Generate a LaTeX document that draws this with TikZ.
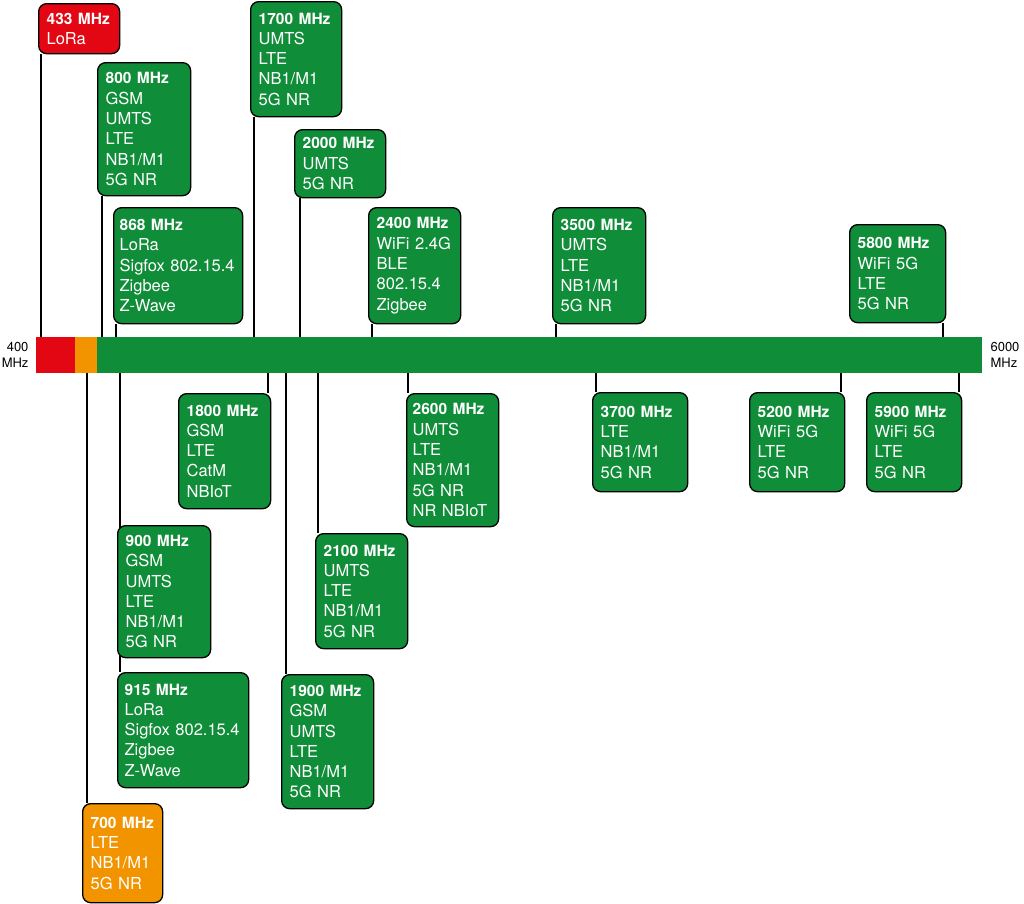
\documentclass[tikz,border=0pt]{standalone}
\usepackage{fontspec}
\setmainfont{TeX Gyre Heros}
\usetikzlibrary{backgrounds}
\definecolor{bandred}{RGB}{227,6,19}
\definecolor{bandorange}{RGB}{242,148,0}
\definecolor{bandgreen}{RGB}{16,141,56}
\newcommand{\mhz}[1]{{\fontsize{15.5}{20.3}\selectfont\bfseries #1}}
\tikzset{
  band/.style={draw=black, line width=1.3pt, rounded corners=8pt, anchor=north west,
    align=left, text=white, fill=bandgreen, inner xsep=8pt, inner ysep=0pt,
    font=\fontsize{16.5}{20.3}\selectfont},
  pin/.style={draw=black, line width=1.1pt},
  edge label/.style={font=\fontsize{13}{16.5}\selectfont},
}
\begin{document}
\begin{tikzpicture}[x=1pt, y=-1pt]
  \useasboundingbox (0,0) rectangle (1024,903);
  % the frequency bar
  \fill[bandgreen] (97,337) rectangle (982,373);
  \fill[bandred] (36,337) rectangle (75,373);
  \fill[bandorange] (75,337) rectangle (97,373);
  \node (lo) at (32,355) [edge label, anchor=east, align=right] {400\\MHz};
  \node (hi) at (987,355) [edge label, anchor=west, align=left] {6000\\MHz};
  % bands above the bar
  \node (b433) at (38,3) [band, fill=bandred, text width=65pt, minimum height=50pt]
    {\mhz{433 MHz}\\LoRa};
  \node (b800) at (97,62) [band, text width=77pt, minimum height=133pt]
    {\mhz{800 MHz}\\GSM\\UMTS\\LTE\\NB1/M1\\5G NR};
  \node (b868) at (113,207) [band, inner xsep=6pt, text width=117pt, minimum height=116pt]
    {\mhz{868 MHz}\\LoRa\\Sigfox 802.15.4\\Zigbee\\Z-Wave};
  \node (b1700) at (250,1) [band, text width=75pt, minimum height=115pt]
    {\mhz{1700 MHz}\\UMTS\\LTE\\NB1/M1\\5G NR};
  \node (b2000) at (294,129) [band, text width=75pt, minimum height=68pt]
    {\mhz{2000 MHz}\\UMTS\\5G NR};
  \node (b2400) at (368,207) [band, text width=76pt, minimum height=116pt]
    {\mhz{2400 MHz}\\WiFi 2.4G\\BLE\\802.15.4\\Zigbee};
  \node (b3500) at (552,207) [band, text width=77pt, minimum height=116pt]
    {\mhz{3500 MHz}\\UMTS\\LTE\\NB1/M1\\5G NR};
  \node (b5800) at (849,224) [band, text width=80pt, minimum height=98pt]
    {\mhz{5800 MHz}\\WiFi 5G\\LTE\\5G NR};
  % bands below the bar
  \node (b700) at (82,803) [band, fill=bandorange, text width=64pt, minimum height=99pt]
    {\mhz{700 MHz}\\LTE\\NB1/M1\\5G NR};
  \node (b900) at (117,525) [band, text width=77pt, minimum height=132pt]
    {\mhz{900 MHz}\\GSM\\UMTS\\LTE\\NB1/M1\\5G NR};
  \node (b915) at (117,672) [band, inner xsep=7pt, text width=117pt, minimum height=115pt]
    {\mhz{915 MHz}\\LoRa\\Sigfox 802.15.4\\Zigbee\\Z-Wave};
  \node (b1800) at (178,393) [band, text width=76pt, minimum height=115pt]
    {\mhz{1800 MHz}\\GSM\\LTE\\CatM\\NBIoT};
  \node (b1900) at (281,674) [band, text width=76pt, minimum height=134pt]
    {\mhz{1900 MHz}\\GSM\\UMTS\\LTE\\NB1/M1\\5G NR};
  \node (b2100) at (315,533) [band, text width=76pt, minimum height=115pt]
    {\mhz{2100 MHz}\\UMTS\\LTE\\NB1/M1\\5G NR};
  \node (b2600) at (406,393) [band, inner xsep=6pt, text width=80pt, minimum height=133pt]
    {\mhz{2600 MHz}\\UMTS\\LTE\\NB1/M1\\5G NR\\NR NBIoT};
  \node (b3700) at (592,392) [band, text width=79pt, minimum height=99pt]
    {\mhz{3700 MHz}\\LTE\\NB1/M1\\5G NR};
  \node (b5200) at (749,392) [band, text width=79pt, minimum height=99pt]
    {\mhz{5200 MHz}\\WiFi 5G\\LTE\\5G NR};
  \node (b5900) at (866,392) [band, text width=79pt, minimum height=99pt]
    {\mhz{5900 MHz}\\WiFi 5G\\LTE\\5G NR};
  % pins, behind the boxes
  \begin{pgfonlayer}{background}
    \coordinate (f433) at (41,337);
    \coordinate (f800) at (102,337);
    \coordinate (f868) at (116,337);
    \coordinate (f1700) at (254,337);
    \coordinate (f2000) at (300,337);
    \coordinate (f2400) at (372,337);
    \coordinate (f3500) at (556,337);
    \coordinate (f5800) at (943,337);
    \coordinate (f700) at (87,373);
    \coordinate (f900) at (120,373);
    \coordinate (f915) at (120,373);
    \coordinate (f1800) at (268,373);
    \coordinate (f1900) at (286,373);
    \coordinate (f2100) at (318,373);
    \coordinate (f2600) at (408,373);
    \coordinate (f3700) at (596,373);
    \coordinate (f5200) at (841,373);
    \coordinate (f5900) at (959,373);
    \draw[pin] (f433) -- (f433 |- b433.south);
    \draw[pin] (f800) -- (f800 |- b800.south);
    \draw[pin] (f868) -- (f868 |- b868.south);
    \draw[pin] (f1700) -- (f1700 |- b1700.south);
    \draw[pin] (f2000) -- (f2000 |- b2000.south);
    \draw[pin] (f2400) -- (f2400 |- b2400.south);
    \draw[pin] (f3500) -- (f3500 |- b3500.south);
    \draw[pin] (f5800) -- (f5800 |- b5800.south);
    \draw[pin] (f700) -- (f700 |- b700.north);
    \draw[pin] (f900) -- (f900 |- b900.north);
    \draw[pin] (f915) -- (f915 |- b915.north);
    \draw[pin] (f1800) -- (f1800 |- b1800.north);
    \draw[pin] (f1900) -- (f1900 |- b1900.north);
    \draw[pin] (f2100) -- (f2100 |- b2100.north);
    \draw[pin] (f2600) -- (f2600 |- b2600.north);
    \draw[pin] (f3700) -- (f3700 |- b3700.north);
    \draw[pin] (f5200) -- (f5200 |- b5200.north);
    \draw[pin] (f5900) -- (f5900 |- b5900.north);
  \end{pgfonlayer}
\end{tikzpicture}
\end{document}
